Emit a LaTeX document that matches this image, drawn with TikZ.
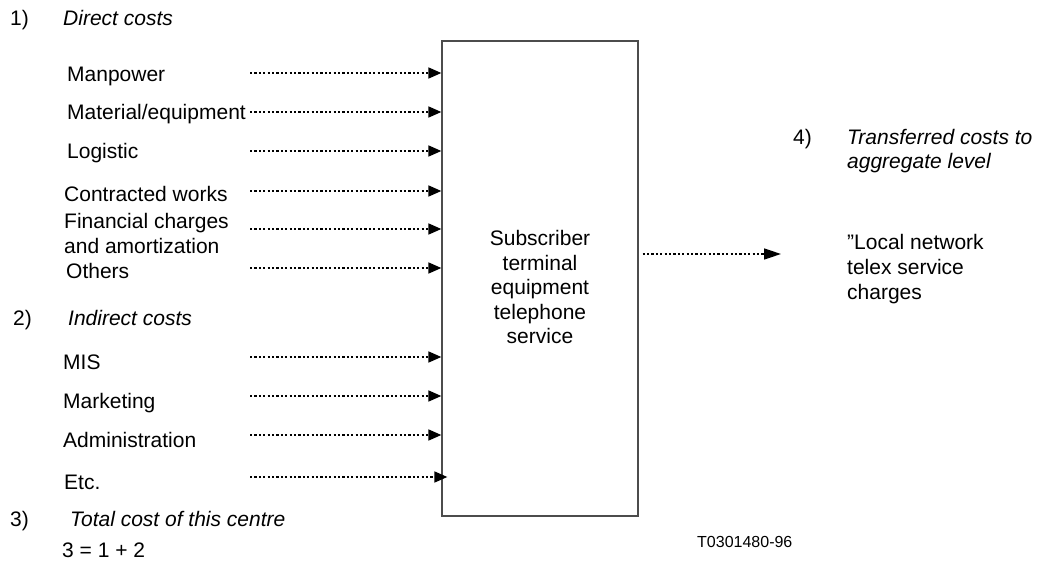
\documentclass[tikz,border=0pt]{standalone}
\usepackage{fontspec}
\setmainfont{Liberation Sans}
\usetikzlibrary{arrows.meta}
\begin{document}
\begin{tikzpicture}[x=1pt,y=-1pt,
  txt/.style={anchor=base west,inner sep=0pt,font=\fontsize{21}{25}\selectfont},
  itxt/.style={txt,font=\fontsize{21}{25}\selectfont\itshape},
  conn/.style={line width=1.7pt,dash pattern=on 2.2pt off 2.2pt,-{Triangle[length=13pt,width=11pt]}},
  connlong/.style={conn,-{Triangle[length=17pt,width=11pt]}},
  boxst/.style={draw=black!70,line width=1.3pt,minimum width=196pt,minimum height=475pt,inner sep=0pt}]
\useasboundingbox (0,0) rectangle (1038,564);
% box
\node[boxst] (box) at (540,278.5) {};
\node[inner sep=0pt,align=center,font=\fontsize{21}{24.5}\selectfont] (boxtxt) at (540,287)
  {Subscriber\\terminal\\equipment\\telephone\\service};
% headings
\node[txt] (n1) at (10,26) {1)};
\node[itxt] (h1) at (63,26) {Direct costs};
\node[txt] (n2) at (13,325) {2)};
\node[itxt] (h2) at (68,325) {Indirect costs};
\node[txt] (n3) at (10,526) {3)};
\node[itxt] (h3) at (70,526) {Total cost of this centre};
\node[txt] (eq) at (62,557) {3 = 1 + 2};
\node[txt] (n4) at (793,145) {4)};
\node[itxt] (h4) at (847,145) {Transferred costs to};
\node[itxt] (h4b) at (847,169) {aggregate level};
\node[txt] (r1) at (847,249) {\symbol{34}Local network};
\node[txt] (r2) at (847,274) {telex service};
\node[txt] (r3) at (847,299) {charges};
\node[txt,font=\fontsize{16}{19}\selectfont] (ref) at (697,547) {T0301480-96};
% items
\node[txt] (a1) at (67,82) {Manpower};
\node[txt] (a2) at (67,120) {Material/equipment};
\node[txt] (a3) at (67,159) {Logistic};
\node[txt] (a4) at (64,201) {Contracted works};
\node[txt] (a5) at (64,228) {Financial charges};
\node[txt] (a5b) at (64,253) {and amortization};
\node[txt] (a6) at (66,278) {Others};
\node[txt] (b1) at (63,369) {MIS};
\node[txt] (b2) at (63,408) {Marketing};
\node[txt] (b3) at (63,447) {Administration};
\node[txt] (b4) at (64,489) {Etc.};
% connector starts
\coordinate (s1) at (250,73);
\coordinate (s2) at (250,112);
\coordinate (s3) at (250,151);
\coordinate (s4) at (250,191);
\coordinate (s5) at (250,229);
\coordinate (s6) at (250,268);
\coordinate (t1) at (250,357);
\coordinate (t2) at (250,396);
\coordinate (t3) at (250,435);
\coordinate (t4) at (250,477);
\coordinate (out) at (781,254);
\foreach \c in {s1,s2,s3,s4,s5,s6,t1,t2,t3}
  \draw[conn] (\c) -- (box.west |- \c);
\draw[conn] (t4) -- ([xshift=6pt]box.west |- t4);
\draw[connlong] ([xshift=4pt]box.east |- out) -- (out);
\end{tikzpicture}
\end{document}
